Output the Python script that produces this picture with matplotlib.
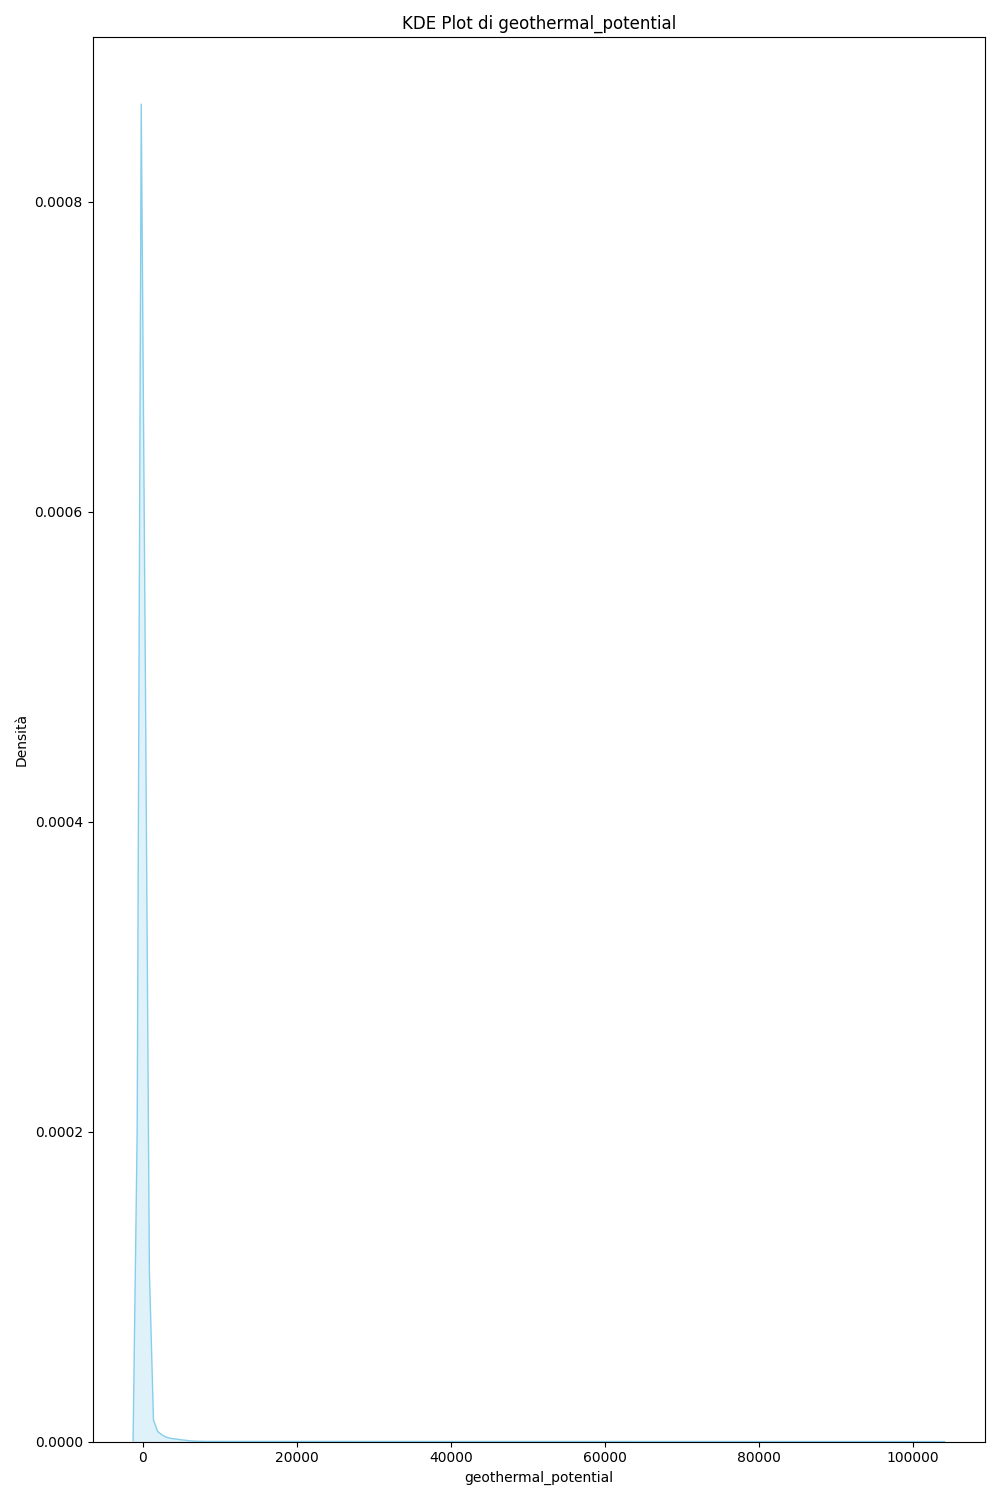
import matplotlib
matplotlib.use("Agg")
import matplotlib.pyplot as plt
import numpy as np

# KDE curve (seaborn-style grid, density values)
grid_x = [-1225, -696, -167, 362, 891, 1420, 1949, 2479, 3008, 3537,
          4066, 4596, 5125, 5654, 6183, 6712, 7242, 8300, 104085]
density = [0.005e-4, 2.0e-4, 8.63e-4, 5.0e-4, 1.1e-4, 0.14e-4, 0.066e-4, 0.045e-4,
           0.03e-4, 0.022e-4, 0.018e-4, 0.015e-4, 0.011e-4, 0.008e-4, 0.005e-4,
           0.003e-4, 0.002e-4, 0.001e-4, 0.0]

title = "KDE Plot di geothermal_potential"
xlabel = "geothermal_potential"
ylabel = "Densità"

x = np.asarray(grid_x, dtype=float)
y = np.asarray(density, dtype=float)

fig, ax = plt.subplots(figsize=(10, 15), dpi=100)
ax.fill_between(x, y, 0, facecolor="skyblue", alpha=0.25, linewidth=0)
ax.plot(x, y, color="skyblue", linewidth=1.0)
ax.plot([x[0], x[-1]], [0, 0], color="skyblue", linewidth=1.0)
ax.set_ylim(bottom=0)
ax.set_title(title)
ax.set_xlabel(xlabel)
ax.set_ylabel(ylabel)
fig.tight_layout()
fig.savefig("out.png", dpi=100)
